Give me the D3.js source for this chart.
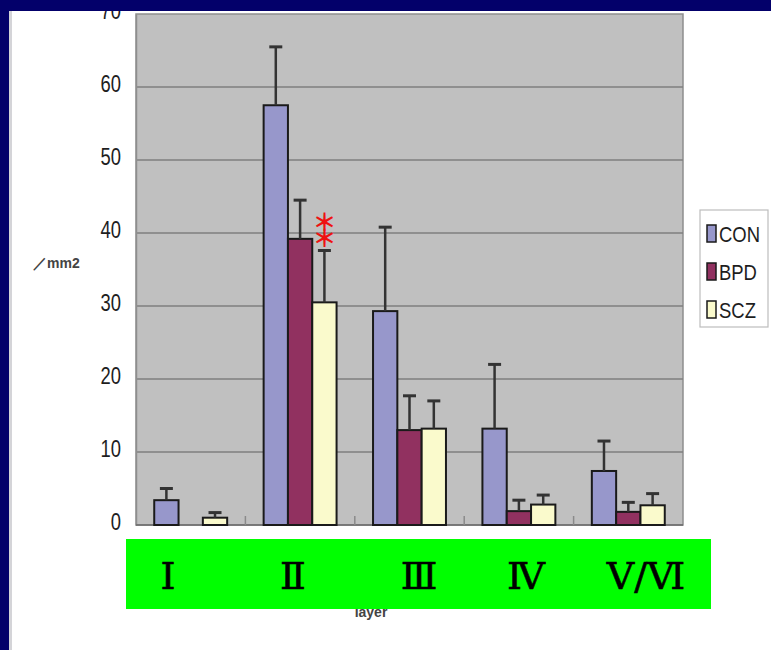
<!DOCTYPE html>
<html>
<head>
<meta charset="utf-8">
<script src="https://cdn.jsdelivr.net/npm/d3@7"></script>
<style>
  html, body { margin: 0; padding: 0; background: #ffffff; }
  svg { display: block; }
</style>
</head>
<body>
<svg id="chart" width="771" height="650"></svg>
<script>
// Density of cells per layer (/mm2), mean and SD per group
const layers = ["Ⅰ", "Ⅱ", "Ⅲ", "Ⅳ", "Ⅴ/Ⅵ"];
const groups = ["CON", "BPD", "SCZ"];
const conMean = [3.4, 57.5, 29.3, 13.2, 7.4];
const conSD   = [1.6, 8.0, 11.5, 8.8, 4.1];
const bpdMean = [0, 39.2, 13.0, 1.9, 1.8];
const bpdSD   = [0, 5.3, 4.7, 1.5, 1.3];
const sczMean = [1.0, 30.5, 13.2, 2.8, 2.7];
const sczSD   = [0.7, 7.1, 3.8, 1.3, 1.6];
const yTicks  = [0, 10, 20, 30, 40, 50, 60, 70];
const groupColors = ["#9797cb", "#913160", "#fafacc"];

const means = [conMean, bpdMean, sczMean];
const sds = [conSD, bpdSD, sczSD];
const rows = [];
layers.forEach((layer, i) => {
  groups.forEach((g, j) => {
    rows.push({ layer, group: g, mean: means[j][i], sd: sds[j][i], color: groupColors[j] });
  });
});

const svg = d3.select("#chart");
const sans = "'Liberation Sans', Arial, sans-serif";
const squeeze = 0.8; // horizontal condensing of the axis type

// frame: left strip and its light shadow
svg.append("rect").attr("x", 0).attr("y", 0).attr("width", 9).attr("height", 650).attr("fill", "#03006a");
svg.append("rect").attr("x", 9).attr("y", 0).attr("width", 3).attr("height", 650).attr("fill", "#d4d4d8");

const plot = { left: 136, right: 683, top: 14, bottom: 525 };

const x = d3.scaleBand().domain(layers).range([plot.left, plot.right])
  .paddingInner(1 / 3).paddingOuter(1 / 6);
const xSub = d3.scaleBand().domain(groups).range([0, x.bandwidth()]);
const y = d3.scaleLinear().domain([0, 70]).range([plot.bottom, plot.top]);

// plot area background
svg.append("rect")
  .attr("x", plot.left).attr("y", plot.top)
  .attr("width", plot.right - plot.left).attr("height", plot.bottom - plot.top)
  .attr("fill", "#c0c0c0").attr("stroke", "#8e8e8e").attr("stroke-width", 1.5);

// horizontal gridlines
svg.append("g").selectAll("line").data(yTicks.filter(t => t > 0 && t < 70)).join("line")
  .attr("x1", plot.left).attr("x2", plot.right)
  .attr("y1", d => y(d)).attr("y2", d => y(d))
  .attr("stroke", "#7f7f7f").attr("stroke-width", 1.5);

// y axis labels (condensed)
const yAxis = d3.axisLeft(y).tickValues(yTicks).tickSize(0).tickPadding(15);
const yg = svg.append("g").attr("transform", `translate(${plot.left},0)`).call(yAxis);
yg.select(".domain").attr("stroke", "#8e8e8e").attr("stroke-width", 1.5);
yg.selectAll("text")
  .attr("font-family", sans).attr("font-size", 23).attr("fill", "#1e1e1e")
  .attr("x", -15 / squeeze).attr("dy", "0.18em")
  .attr("transform", `scale(${squeeze},1)`);

// baseline and inward category ticks
svg.append("line")
  .attr("x1", plot.left).attr("x2", plot.right)
  .attr("y1", plot.bottom).attr("y2", plot.bottom)
  .attr("stroke", "#6a6a6a").attr("stroke-width", 1.5);
const boundaries = layers.slice(1).map(l => x(l) - x.step() * x.paddingInner() / 2);
svg.append("g").selectAll("line").data(boundaries).join("line")
  .attr("x1", d => d).attr("x2", d => d)
  .attr("y1", plot.bottom).attr("y2", plot.bottom - 9)
  .attr("stroke", "#8a8a8a").attr("stroke-width", 1.5);

// bars
svg.append("g").selectAll("rect").data(rows).join("rect")
  .attr("x", d => x(d.layer) + xSub(d.group))
  .attr("y", d => y(d.mean))
  .attr("width", xSub.bandwidth())
  .attr("height", d => y(0) - y(d.mean))
  .attr("fill", d => d.color)
  .attr("stroke", "#1a1a1a").attr("stroke-width", 2);

// error bars (upper side only)
const eb = svg.append("g").selectAll("g").data(rows.filter(d => d.sd > 0)).join("g")
  .attr("transform", d => `translate(${x(d.layer) + xSub(d.group) + xSub.bandwidth() / 2},0)`);
eb.append("line")
  .attr("y1", d => y(d.mean)).attr("y2", d => y(d.mean + d.sd))
  .attr("stroke", "#333333").attr("stroke-width", 2.5);
eb.append("line")
  .attr("x1", -6.5).attr("x2", 6.5)
  .attr("y1", d => y(d.mean + d.sd)).attr("y2", d => y(d.mean + d.sd))
  .attr("stroke", "#333333").attr("stroke-width", 3);

// significance marks above the SCZ error bar of layer II
const starX = x("Ⅱ") + xSub("SCZ") + xSub.bandwidth() / 2;
const starBase = y(sczMean[1] + sczSD[1]) - 4;
const stars = svg.append("text")
  .attr("text-anchor", "middle")
  .attr("font-family", "'Noto Sans CJK JP', sans-serif").attr("font-size", 24)
  .attr("font-weight", "bold").attr("fill", "#ee1111");
stars.selectAll("tspan").data([0, 1]).join("tspan")
  .attr("x", starX).attr("y", (d, i) => starBase - 16 + i * 16)
  .text("＊");

// y unit label
svg.append("text").attr("x", 33).attr("y", 268)
  .attr("font-family", sans).attr("font-size", 14)
  .attr("font-weight", "bold").attr("fill", "#444")
  .text("／mm2");

// x axis title
svg.append("text").attr("x", 371).attr("y", 617)
  .attr("text-anchor", "middle")
  .attr("font-family", sans).attr("font-size", 14)
  .attr("font-weight", "bold").attr("fill", "#444")
  .text("layer");

// legend
const lg = svg.append("g").attr("transform", "translate(700,210)");
lg.append("rect").attr("width", 68).attr("height", 117)
  .attr("fill", "#ffffff").attr("stroke", "#bdbdbd").attr("stroke-width", 1.2);
const li = lg.selectAll("g.item").data(groups).join("g").attr("class", "item")
  .attr("transform", (d, i) => `translate(7,${15 + i * 38})`);
li.append("rect").attr("width", 9).attr("height", 17)
  .attr("fill", (d, i) => groupColors[i]).attr("stroke", "#1a1a1a").attr("stroke-width", 1.5);
li.append("text").attr("x", 12 / 0.84).attr("y", 17)
  .attr("transform", "scale(0.84,1)")
  .attr("font-family", sans).attr("font-size", 22).attr("fill", "#1e1e1e")
  .text(d => d);

// category banner with layer numerals
svg.append("rect").attr("x", 126).attr("y", 539).attr("width", 585).attr("height", 70).attr("fill", "#00ff00");
const labelX = [168, 293, 419, 526, 646];
svg.append("g").selectAll("text").data(layers).join("text")
  .attr("x", (d, i) => labelX[i]).attr("y", 589)
  .attr("text-anchor", "middle")
  .attr("font-family", "'DejaVu Serif', 'Liberation Serif', serif").attr("font-size", 38)
  .attr("fill", "#000").attr("stroke", "#000").attr("stroke-width", 0.6)
  .text(d => d);

// top strip (drawn last, covering the top of the axis)
svg.append("rect").attr("x", 0).attr("y", 0).attr("width", 771).attr("height", 11).attr("fill", "#03006a");
</script>
</body>
</html>
